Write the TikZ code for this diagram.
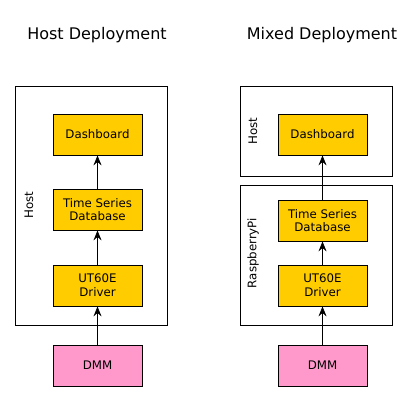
\documentclass[tikz,border=0pt]{standalone}
\usepackage{fontspec}
\setmainfont{DejaVu Sans}
\usepackage{xcolor}
\usetikzlibrary{arrows.meta, positioning}

\definecolor{compyellow}{HTML}{FFCC00}
\definecolor{devpink}{HTML}{FF99CC}

\tikzset{
    comp/.style={rectangle, draw, line width=0.8pt, fill=compyellow, minimum width=89pt, minimum height=41pt, align=center, inner sep=0pt, font=\fontsize{11.8}{13.7}\selectfont},
    dev/.style={comp, fill=devpink},
    machine/.style={rectangle, draw, line width=0.8pt, inner sep=0pt},
    machinelabel/.style={rotate=90, font=\fontsize{11.8}{13.7}\selectfont},
    title/.style={font=\fontsize{16}{18}\selectfont},
    flow/.style={-{Stealth[length=10pt, width=8pt, inset=3.5pt]}, line width=0.8pt}
}

\begin{document}
\begin{tikzpicture}[x=1pt, y=-1pt]
        \useasboundingbox (0, 0) rectangle (415, 401);

        % host deployment
        \node[title] (titleA) at (97, 35) {Host Deployment};
        \node[machine, minimum width=152pt, minimum height=239pt] (hostA) at (91, 205.5) {};
        \node[machinelabel] (hostAlabel) at (29, 205) {Host};
        \node[comp] (dashA) at (97.5, 134.5) {Dashboard};
        \node[comp] (tsdbA) at (97.5, 209.5) {Time Series\\Database};
        \node[comp] (drvA) at (97.5, 285.5) {UT60E\\Driver};
        \node[dev] (dmmA) at (97.5, 365.5) {DMM};

        \draw[flow] (dmmA) to (drvA);
        \draw[flow] (drvA) to (tsdbA);
        \draw[flow] (tsdbA) to (dashA);

        % mixed deployment
        \node[title] (titleB) at (322, 35) {Mixed Deployment};
        \node[machine, minimum width=152pt, minimum height=90pt] (hostB) at (316, 131) {};
        \node[machinelabel] (hostBlabel) at (253, 131) {Host};
        \node[machine, minimum width=152pt, minimum height=140pt] (piB) at (316, 255) {};
        \node[machinelabel] (piBlabel) at (253, 253) {RaspberryPi};
        \node[comp] (dashB) at (322.5, 134.5) {Dashboard};
        \node[comp] (tsdbB) at (322.5, 220.5) {Time Series\\Database};
        \node[comp] (drvB) at (322.5, 285.5) {UT60E\\Driver};
        \node[dev] (dmmB) at (322.5, 365.5) {DMM};

        \draw[flow] (dmmB) to (drvB);
        \draw[flow] (drvB) to (tsdbB);
        \draw[flow] (tsdbB) to (dashB);
    \end{tikzpicture}
\end{document}
